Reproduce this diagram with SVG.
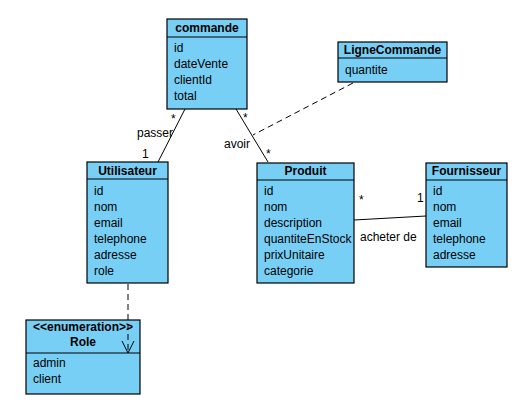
<svg xmlns="http://www.w3.org/2000/svg" width="531" height="412" viewBox="0 0 531 412">
<style>
.box{fill:#78cff5;stroke:#000;stroke-width:1.2}
.sep{stroke:#000;stroke-width:1.2}
text{font-family:"Liberation Sans",Arial,sans-serif;font-size:12px;fill:#000}
.h{font-weight:bold;text-anchor:middle}
.ln{stroke:#000;stroke-width:1;fill:none}
.dash{stroke:#000;stroke-width:1;fill:none;stroke-dasharray:6,4}
</style>
<rect width="531" height="412" fill="#fff"/>
<g id="commande">
<rect class="box" x="167" y="19" width="80" height="90"/>
<line class="sep" x1="167" y1="37" x2="247" y2="37"/>
<text class="h" x="207" y="32">commande</text>
<text x="174" y="52">id</text>
<text x="174" y="68">dateVente</text>
<text x="174" y="84">clientId</text>
<text x="174" y="100">total</text>
</g>
<g id="LigneCommande">
<rect class="box" x="338" y="42" width="109" height="40"/>
<line class="sep" x1="338" y1="58" x2="447" y2="58"/>
<text class="h" x="392.5" y="54">LigneCommande</text>
<text x="345" y="74">quantite</text>
</g>
<g id="Utilisateur">
<rect class="box" x="87" y="162" width="81" height="121"/>
<line class="sep" x1="87" y1="179" x2="168" y2="179"/>
<text class="h" x="127.5" y="175">Utilisateur</text>
<text x="94" y="195">id</text>
<text x="94" y="211">nom</text>
<text x="94" y="227">email</text>
<text x="94" y="243">telephone</text>
<text x="94" y="259">adresse</text>
<text x="94" y="275">role</text>
</g>
<g id="Produit">
<rect class="box" x="257" y="163" width="97" height="120"/>
<line class="sep" x1="257" y1="180" x2="354" y2="180"/>
<text class="h" x="305.5" y="175">Produit</text>
<text x="264" y="195">id</text>
<text x="264" y="211">nom</text>
<text x="264" y="227">description</text>
<text x="264" y="243">quantiteEnStock</text>
<text x="264" y="259">prixUnitaire</text>
<text x="264" y="275">categorie</text>
</g>
<g id="Fournisseur">
<rect class="box" x="426" y="163" width="81" height="104"/>
<line class="sep" x1="426" y1="180" x2="507" y2="180"/>
<text class="h" x="466.5" y="175">Fournisseur</text>
<text x="433" y="195">id</text>
<text x="433" y="211">nom</text>
<text x="433" y="227">email</text>
<text x="433" y="243">telephone</text>
<text x="433" y="259">adresse</text>
</g>
<g id="Role">
<rect class="box" x="26" y="320" width="114" height="74"/>
<line class="sep" x1="26" y1="353" x2="140" y2="353"/>
<text class="h" x="83" y="331">&lt;&lt;enumeration&gt;&gt;</text>
<text class="h" x="83" y="346">Role</text>
<text x="33" y="367">admin</text>
<text x="33" y="383">client</text>
</g>
<g id="connectors">
<line class="ln" x1="185" y1="109" x2="158" y2="162"/>
<line class="ln" x1="236" y1="109" x2="268" y2="162"/>
<line class="dash" x1="353" y1="83" x2="253" y2="135"/>
<line class="ln" x1="354" y1="220" x2="426" y2="216"/>
<line class="dash" x1="128" y1="284" x2="128" y2="352"/>
<polyline class="ln" points="122,341 128,353 134,341"/>
<text x="171" y="123">*</text>
<text x="137" y="137">passer</text>
<text x="142" y="158">1</text>
<text x="243" y="122">*</text>
<text x="224" y="148">avoir</text>
<text x="266" y="158">*</text>
<text x="359" y="204">*</text>
<text x="417" y="202">1</text>
<text x="360" y="241">acheter de</text>
</g>
</svg>
